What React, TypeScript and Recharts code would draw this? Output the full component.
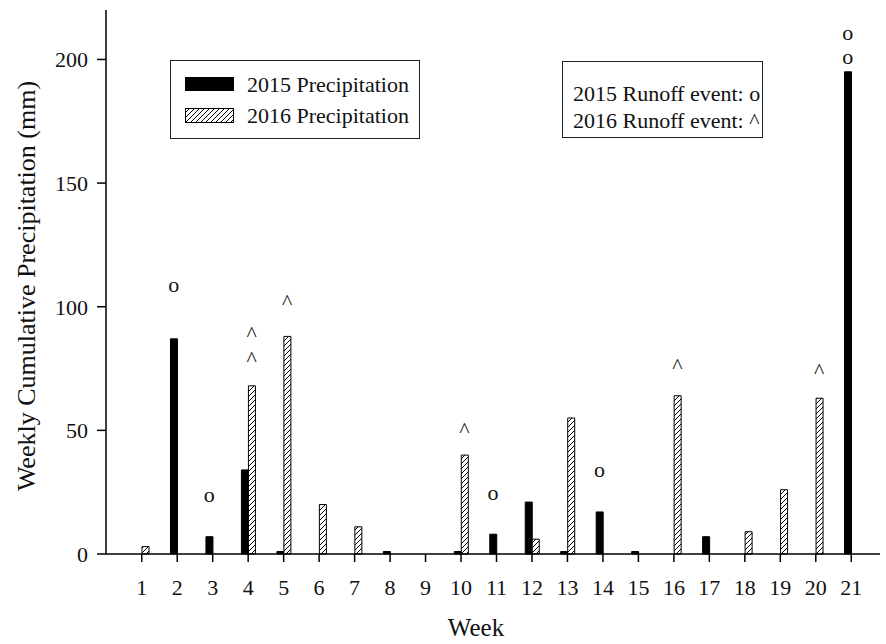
import React from 'react';
import { ComposedChart, Bar, XAxis, YAxis, Scatter } from 'recharts';

const weeks = ['1', '2', '3', '4', '5', '6', '7', '8', '9', '10', '11', '12', '13', '14', '15', '16', '17', '18', '19', '20', '21'];
const precip2015 = [0, 87, 7, 34, 1, 0, 0, 1, 0, 1, 8, 21, 1, 17, 1, 0, 7, 0, 0, 0, 195];
const precip2016 = [3, 0, 0, 68, 88, 20, 11, 0, 0, 40, 0, 6, 55, 0, 0, 64, 0, 9, 26, 63, 0];

// runoff markers: [week, height of marker in mm-scale]
const runoff2015First: [string, number][] = [['2', 108], ['3', 23], ['11', 24], ['14', 33], ['21', 200]];
const runoff2015Second: [string, number][] = [['21', 210]];
const runoff2016First: [string, number][] = [['4', 81], ['5', 104], ['10', 52], ['16', 78], ['20', 76]];
const runoff2016Second: [string, number][] = [['4', 91]];

const yTicks = [0, 50, 100, 150, 200];

const lookup = (list: [string, number][], w: string) => {
  const f = list.find((e) => e[0] === w);
  return f ? f[1] : null;
};

const data = weeks.map((w, i) => ({
  week: w,
  p2015: precip2015[i],
  p2016: precip2016[i],
  o1: lookup(runoff2015First, w),
  o2: lookup(runoff2015Second, w),
  a1: lookup(runoff2016First, w),
  a2: lookup(runoff2016Second, w),
}));

const FONT = '"Liberation Serif", "Times New Roman", serif';

const makeMarker = (ch: string, key: string, dx: number, dy: number) => (props: any) => {
  const { cx, cy, payload } = props;
  if (payload == null || payload[key] == null || cx == null || cy == null || isNaN(cy)) return <g />;
  return (
    <text x={cx + dx} y={cy + dy} textAnchor="middle" fontFamily={FONT} fontSize={22} fill="#111">
      {ch}
    </text>
  );
};

const boxStyle: React.CSSProperties = {
  position: 'absolute',
  border: '1.5px solid #222',
  background: '#fff',
  boxSizing: 'border-box',
};

const textStyle: React.CSSProperties = {
  position: 'absolute',
  fontFamily: FONT,
  fontSize: 22,
  lineHeight: '22px',
  color: '#111',
  whiteSpace: 'nowrap',
};

export default function App() {
  return (
    <div style={{ position: 'absolute', left: 0, top: 0, width: 886, height: 644, background: '#fff' }}>
      <ComposedChart
        width={886}
        height={644}
        data={data}
        margin={{ top: 10, right: 6, bottom: 0, left: 0 }}
        barGap={0}
      >
        <defs>
          <pattern id="hatch" patternUnits="userSpaceOnUse" width="5" height="5">
            <rect width="5" height="5" fill="#fff" />
            <path d="M0,5 L5,0 M-1,1 L1,-1 M4,6 L6,4" stroke="#000" strokeWidth={1} />
          </pattern>
        </defs>
        <XAxis
          dataKey="week"
          height={90}
          padding={{ left: 18, right: 11 }}
          tickSize={8}
          tickMargin={17}
          tick={{ fontFamily: FONT, fontSize: 22, fill: '#111' }}
          axisLine={{ stroke: '#000', strokeWidth: 1.5 }}
          tickLine={{ stroke: '#000', strokeWidth: 1.5 }}
          label={{ value: 'Week', position: 'insideBottom', offset: 8, dx: -17, style: { fontFamily: FONT, fontSize: 25, fill: '#111' } }}
        />
        <XAxis xAxisId="top" orientation="top" dataKey="week" height={0} tick={false} tickLine={false} axisLine={{ stroke: '#000', strokeWidth: 1.5 }} />
        <YAxis
          domain={[0, 220]}
          ticks={yTicks}
          width={106}
          tickSize={9}
          tickMargin={9}
          interval={0}
          tick={{ fontFamily: FONT, fontSize: 22, fill: '#111' }}
          axisLine={{ stroke: '#000', strokeWidth: 1.5 }}
          tickLine={{ stroke: '#000', strokeWidth: 1.5 }}
          label={{
            value: 'Weekly Cumulative Precipitation (mm)',
            angle: -90,
            position: 'insideLeft',
            offset: 26,
            dy: 4,
            style: { textAnchor: 'middle', fontFamily: FONT, fontSize: 26, fill: '#111' },
          }}
        />
        <YAxis yAxisId="right" orientation="right" domain={[0, 220]} width={0} tick={false} tickLine={false} axisLine={{ stroke: '#000', strokeWidth: 1.5 }} />
        <Bar dataKey="p2015" barSize={7} fill="#000" stroke="#000" strokeWidth={1} isAnimationActive={false} />
        <Bar dataKey="p2016" barSize={7} fill="url(#hatch)" stroke="#000" strokeWidth={1} isAnimationActive={false} />
        <Scatter dataKey="o1" shape={makeMarker('o', 'o1', -3.5, 5)} isAnimationActive={false} />
        <Scatter dataKey="o2" shape={makeMarker('o', 'o2', -3.5, 5)} isAnimationActive={false} />
        <Scatter dataKey="a1" shape={makeMarker('^', 'a1', 3.5, 12)} isAnimationActive={false} />
        <Scatter dataKey="a2" shape={makeMarker('^', 'a2', 3.5, 12)} isAnimationActive={false} />
      </ComposedChart>

      <div style={{ ...boxStyle, left: 170, top: 60, width: 250, height: 79 }} />
      <div style={{ position: 'absolute', left: 185, top: 77, width: 49, height: 14, background: '#000' }} />
      <svg style={{ position: 'absolute', left: 185, top: 108 }} width={49} height={15}>
        <rect x={0.5} y={0.5} width={48} height={14} fill="url(#hatch)" stroke="#000" strokeWidth={1} />
      </svg>
      <div style={{ ...textStyle, left: 247, top: 74 }}>2015 Precipitation</div>
      <div style={{ ...textStyle, left: 247, top: 105 }}>2016 Precipitation</div>

      <div style={{ ...boxStyle, left: 562, top: 61, width: 201, height: 77 }} />
      <div style={{ ...textStyle, left: 573, top: 83 }}>2015 Runoff event: o</div>
      <div style={{ ...textStyle, left: 573, top: 110 }}>2016 Runoff event: ^</div>
    </div>
  );
}
